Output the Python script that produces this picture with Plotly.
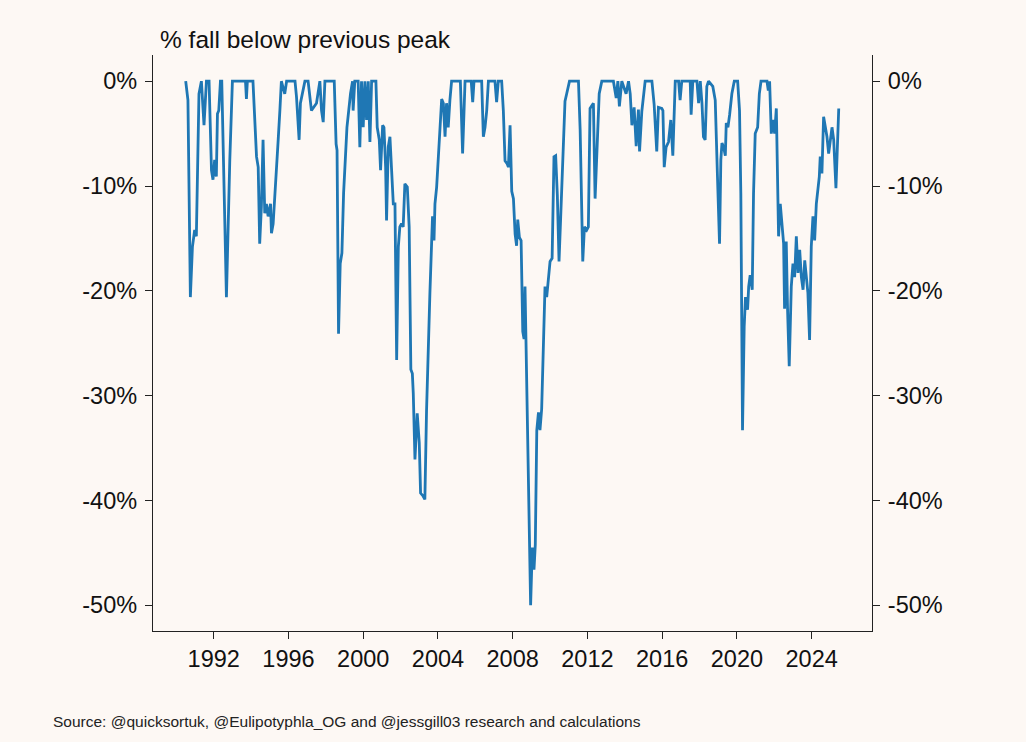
import plotly.graph_objects as go

years = [
    1990.50, 1990.62, 1990.75, 1990.86, 1990.98, 1991.07, 1991.21, 1991.34, 1991.48, 1991.61,
    1991.75, 1991.88, 1991.96, 1992.05, 1992.14, 1992.20, 1992.27, 1992.36, 1992.43, 1992.68,
    1992.86, 1993.00, 1993.70, 1993.75, 1993.80, 1994.10, 1994.29, 1994.38, 1994.46, 1994.55,
    1994.64, 1994.73, 1994.82, 1994.91, 1995.04, 1995.09, 1995.18, 1995.36, 1995.45, 1995.54,
    1995.62, 1995.80, 1995.90, 1996.35, 1996.43, 1996.57, 1996.64, 1996.88, 1997.05, 1997.23,
    1997.41, 1997.50, 1997.68, 1997.77, 1997.86, 1997.95, 1998.45, 1998.55, 1998.60, 1998.68,
    1998.77, 1998.86, 1998.95, 1999.13, 1999.32, 1999.43, 1999.46, 1999.55, 1999.73, 1999.82,
    1999.91, 2000.00, 2000.09, 2000.18, 2000.27, 2000.36, 2000.45, 2000.68, 2000.75, 2000.86,
    2000.93, 2001.04, 2001.11, 2001.20, 2001.25, 2001.34, 2001.43, 2001.52, 2001.61, 2001.70,
    2001.79, 2001.88, 2001.96, 2002.05, 2002.14, 2002.23, 2002.36, 2002.46, 2002.55, 2002.63,
    2002.68, 2002.77, 2002.89, 2003.00, 2003.07, 2003.21, 2003.30, 2003.39, 2003.48, 2003.57,
    2003.66, 2003.71, 2003.79, 2003.84, 2003.93, 2004.02, 2004.11, 2004.20, 2004.29, 2004.38,
    2004.46, 2004.55, 2004.64, 2004.73, 2005.20, 2005.32, 2005.45, 2005.78, 2005.86, 2005.93,
    2006.34, 2006.43, 2006.52, 2006.61, 2006.70, 2007.05, 2007.14, 2007.23, 2007.41, 2007.50,
    2007.59, 2007.71, 2007.77, 2007.86, 2007.95, 2008.04, 2008.13, 2008.21, 2008.27, 2008.36,
    2008.45, 2008.54, 2008.61, 2008.66, 2008.71, 2008.96, 2009.05, 2009.14, 2009.21, 2009.29,
    2009.38, 2009.46, 2009.55, 2009.64, 2009.73, 2009.82, 2009.91, 2010.00, 2010.11, 2010.21,
    2010.30, 2010.39, 2010.48, 2010.57, 2010.68, 2010.80, 2010.89, 2011.04, 2011.52, 2011.61,
    2011.75, 2011.84, 2011.96, 2012.05, 2012.14, 2012.32, 2012.41, 2012.50, 2012.63, 2012.77,
    2013.39, 2013.54, 2013.63, 2013.71, 2013.84, 2014.07, 2014.20, 2014.29, 2014.38, 2014.50,
    2014.61, 2014.73, 2014.79, 2014.91, 2015.09, 2015.45, 2015.57, 2015.71, 2015.80, 2015.98,
    2016.04, 2016.11, 2016.21, 2016.34, 2016.46, 2016.57, 2016.64, 2016.70, 2016.88, 2016.96,
    2017.05, 2017.50, 2017.55, 2017.64, 2017.86, 2017.95, 2018.04, 2018.13, 2018.21, 2018.30,
    2018.39, 2018.48, 2018.71, 2018.84, 2018.96, 2019.07, 2019.14, 2019.20, 2019.29, 2019.38,
    2019.43, 2019.52, 2019.61, 2019.73, 2019.86, 2020.04, 2020.14, 2020.21, 2020.30, 2020.39,
    2020.46, 2020.57, 2020.63, 2020.71, 2020.82, 2020.89, 2020.98, 2021.11, 2021.20, 2021.29,
    2021.61, 2021.68, 2021.75, 2021.84, 2021.93, 2022.02, 2022.11, 2022.18, 2022.23, 2022.32,
    2022.41, 2022.50, 2022.55, 2022.64, 2022.71, 2022.80, 2022.91, 2023.00, 2023.09, 2023.18,
    2023.27, 2023.36, 2023.45, 2023.54, 2023.63, 2023.71, 2023.80, 2023.89, 2023.98, 2024.07,
    2024.16, 2024.25, 2024.32, 2024.41, 2024.46, 2024.55, 2024.64, 2024.73, 2024.82, 2024.91,
    2025.00, 2025.09, 2025.18, 2025.30, 2025.45,
]
drawdown = [
    0, -1.8, -20.6, -15.8, -14.2, -14.8, -1.2, 0, -4.2, 0,
    0, -8.5, -9.4, -7.5, -9.1, -3.1, -2.8, 0, 0, -20.6,
    -7.5, 0, 0, -1.7, 0, 0, -7.2, -8.2, -15.5, -12.0,
    -5.6, -12.6, -11.7, -12.9, -11.7, -14.5, -13.6, -7.5, -5.6, -2.8,
    0, -1.2, 0, 0, -1.5, -5.6, -2.1, 0, 0, -2.8,
    -2.4, -2.1, 0, -2.8, -3.9, 0, 0, -6.0, -6.6, -24.1,
    -17.4, -16.4, -10.7, -4.4, -1.2, 0, -2.8, 0, 0, -6.3,
    0, -4.4, 0, -3.7, 0, -5.8, 0, 0, -4.4, -5.6,
    -8.5, -4.2, -4.4, -8.2, -13.3, -6.3, -5.3, -9.1, -11.7, -11.7,
    -26.6, -15.8, -13.9, -13.6, -13.9, -9.8, -10.1, -13.9, -27.5, -27.9,
    -29.8, -36.1, -31.7, -34.5, -39.3, -39.6, -39.9, -31.4, -25.0, -20.2,
    -15.5, -12.9, -15.2, -11.7, -10.1, -7.5, -4.4, -1.7, -2.1, -5.3,
    -2.1, -4.4, -1.8, 0, 0, -6.9, 0, 0, -2.0, 0,
    0, -5.3, -4.4, -2.8, 0, 0, -2.0, 0, 0, -2.8,
    -7.6, -7.9, -8.2, -4.2, -10.5, -11.2, -14.6, -15.7, -13.2, -14.9,
    -15.2, -23.9, -24.6, -19.6, -24.6, -50.0, -44.5, -46.6, -44.2, -33.3,
    -31.6, -33.3, -31.3, -23.9, -19.6, -20.6, -19.2, -17.2, -16.9, -7.2,
    -7.1, -10.9, -17.2, -13.2, -8.9, -1.9, -1.2, 0, 0, -4.6,
    -17.2, -13.9, -14.2, -13.9, -2.6, -2.1, -11.2, -6.2, -1.2, 0,
    0, -1.6, 0, -2.4, 0, -1.2, 0, -1.2, -4.2, -2.5,
    -6.2, -2.7, -6.7, -2.9, 0, 0, -2.2, -6.7, -2.5, -2.6,
    -2.8, -8.2, -6.3, -5.8, -3.7, -7.1, -2.4, 0, 0, -1.8,
    0, 0, -3.2, 0, 0, -2.1, 0, -2.1, -5.3, -5.6,
    -0.5, 0, -0.5, -1.8, -9.1, -15.5, -7.5, -5.9, -6.3, -7.1,
    -4.0, -4.4, -3.2, -1.2, 0, 0, -2.8, -10.7, -33.3, -23.4,
    -20.6, -21.8, -19.6, -18.5, -19.9, -10.7, -5.0, -4.4, -1.2, 0,
    0, -0.9, 0, -5.0, -3.7, -5.0, -2.6, -11.3, -14.8, -11.7,
    -13.3, -15.5, -21.7, -15.3, -21.7, -27.2, -19.6, -17.4, -18.7, -14.8,
    -18.3, -16.1, -18.7, -19.9, -17.1, -19.0, -20.2, -24.7, -15.8, -12.9,
    -15.2, -11.7, -10.7, -9.1, -7.2, -8.8, -3.4, -4.4, -5.3, -6.9,
    -5.6, -4.4, -5.6, -10.2, -2.6,
]

tick_years = [1992, 1996, 2000, 2004, 2008, 2012, 2016, 2020, 2024]
tick_pct = [0, -10, -20, -30, -40, -50]
tick_pct_text = ["0%", "-10%", "-20%", "-30%", "-40%", "-50%"]

bg = "#fdf8f4"
font = "Liberation Sans, Arial, sans-serif"

fig = go.Figure()
fig.add_trace(go.Scatter(x=years, y=drawdown, mode="lines",
                         line=dict(color="#1f77b4", width=2.8),
                         showlegend=False, hoverinfo="skip"))
# invisible point so the right-hand axis gets drawn
fig.add_trace(go.Scatter(x=years[:1], y=drawdown[:1], yaxis="y2", mode="markers",
                         marker=dict(opacity=0), showlegend=False, hoverinfo="skip"))

axis_style = dict(showline=True, linecolor="#222", linewidth=1.3,
                  ticks="outside", ticklen=7, tickwidth=1.3, tickcolor="#222",
                  showgrid=False, zeroline=False,
                  tickfont=dict(family=font, size=23.5, color="#111"))

fig.update_layout(
    width=1026, height=742,
    paper_bgcolor=bg, plot_bgcolor=bg,
    margin=dict(l=153, r=154, t=55, b=111),
    xaxis=dict(range=[1988.75, 2027.23], tickvals=tick_years,
               ticktext=[str(y) for y in tick_years], **axis_style),
    yaxis=dict(range=[-52.46, 2.5], tickvals=tick_pct, ticktext=tick_pct_text,
               ticklabelstandoff=3, **axis_style),
    yaxis2=dict(range=[-52.46, 2.5], tickvals=tick_pct, ticktext=tick_pct_text,
                overlaying="y", side="right", ticklabelstandoff=3, **axis_style),
    annotations=[
        dict(text="% fall below previous peak", xref="paper", yref="paper",
             x=0.007, y=1.0, xanchor="left", yanchor="bottom", showarrow=False,
             font=dict(family=font, size=24.5, color="#111")),
        dict(text="Source: @quicksortuk, @Eulipotyphla_OG and @jessgill03 research and calculations",
             xref="paper", yref="paper", x=-0.142, y=-0.157,
             xanchor="left", yanchor="middle", showarrow=False,
             font=dict(family=font, size=15.5, color="#222")),
    ],
)

fig.write_html("out.html", config={"displayModeBar": False},
               post_script="document.body.style.margin='0';"
                           "document.body.style.background='#fdf8f4';")
